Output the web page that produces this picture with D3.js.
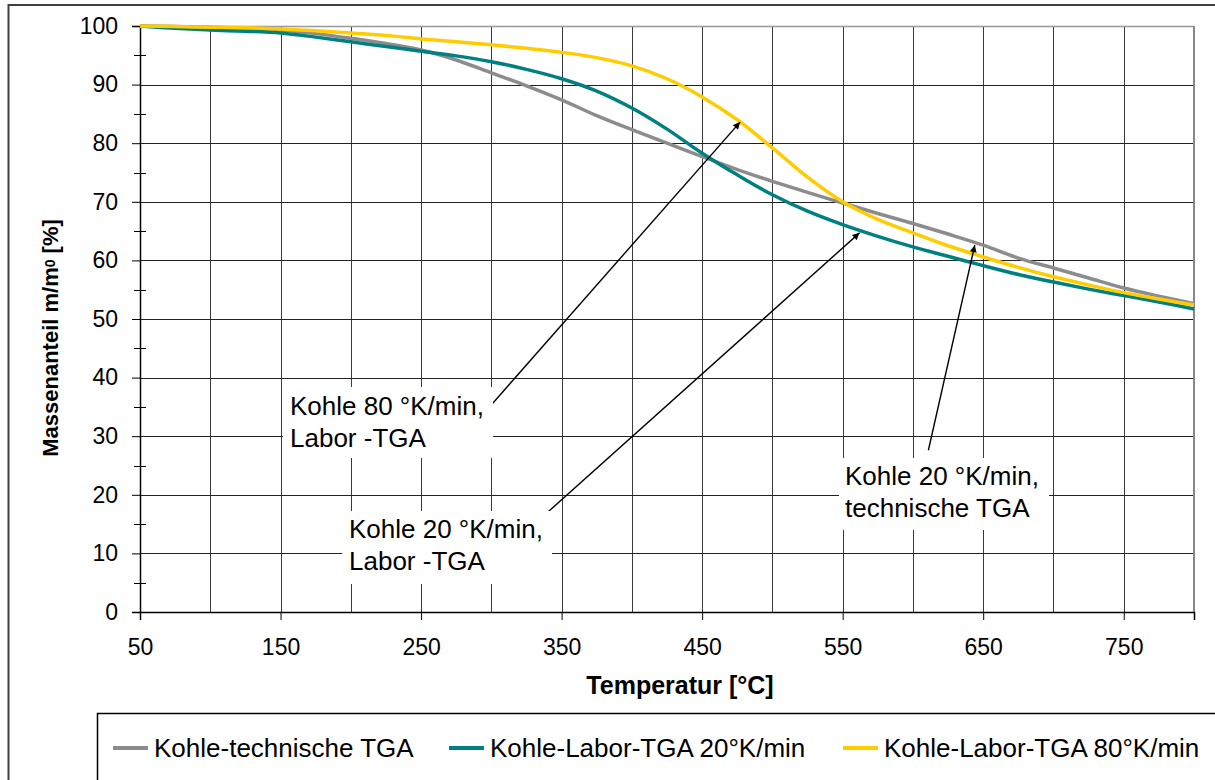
<!DOCTYPE html>
<html>
<head>
<meta charset="utf-8">
<script src="https://cdn.jsdelivr.net/npm/d3@7"></script>
<style>
  body { margin: 0; background: #fff; }
  svg text { font-family: "Liberation Sans", Arial, sans-serif; fill: #000; }
</style>
</head>
<body>
<div id="chart"></div>
<script>
// data
var temps = [50, 75, 100, 125, 150, 175, 200, 225, 250, 275, 300, 325, 350, 375, 400, 425,
             450, 475, 500, 525, 550, 575, 600, 625, 650, 675, 700, 725, 750, 775, 800];
var techTGA = [100, 99.9, 99.8, 99.6, 99.3, 98.7, 97.9, 97.0, 95.9, 94.2, 92.0, 89.8, 87.4, 84.7, 82.3, 80.0,
               77.7, 75.5, 73.5, 71.6, 69.8, 68.0, 66.3, 64.5, 62.6, 60.4, 58.7, 57.0, 55.3, 53.9, 52.6];
var labor20 = [100, 99.6, 99.3, 99.1, 98.8, 98.1, 97.3, 96.5, 95.7, 94.9, 93.9, 92.6, 91.0, 88.9, 86.0, 82.4,
               78.3, 74.6, 71.2, 68.4, 66.1, 64.1, 62.3, 60.7, 59.1, 57.6, 56.3, 55.1, 54.0, 52.9, 51.7];
var labor80 = [100, 99.9, 99.8, 99.7, 99.5, 99.2, 98.8, 98.4, 97.8, 97.3, 96.8, 96.2, 95.5, 94.6, 93.2, 91.0,
               87.9, 84.0, 79.2, 74.2, 70.0, 67.0, 64.7, 62.5, 60.6, 58.8, 57.2, 55.8, 54.5, 53.4, 52.4];
var seriesNames = ["Kohle-technische TGA", "Kohle-Labor-TGA 20°K/min", "Kohle-Labor-TGA 80°K/min"];
var seriesColors = ["#8c8c8c", "#008080", "#ffcc00"];
var xTickValues = [50, 150, 250, 350, 450, 550, 650, 750];
var yTickValues = [0, 10, 20, 30, 40, 50, 60, 70, 80, 90, 100];

// annotations: text lines, arrow start and arrow tip in data units
var notes = [
  { lines: ["Kohle 80 °K/min,", "Labor -TGA"], from: [292.5, 33.3], to: [477, 83.6] },
  { lines: ["Kohle 20 °K/min,", "Labor -TGA"], from: [339.5, 16.9], to: [562, 64.7] },
  { lines: ["Kohle 20 °K/min,", "technische TGA"], from: [611, 27.6], to: [644, 62.6] }
];

var svgWidth = 1215, svgHeight = 780;
var margin = { top: 26, left: 140 };
var plotW = 1054, plotH = 586;

var svg = d3.select("#chart").append("svg")
  .attr("width", svgWidth).attr("height", svgHeight);

// outer chart border
svg.append("rect").attr("x", 8.5).attr("y", 5).attr("width", 1300).attr("height", 900)
  .attr("fill", "#fff").attr("stroke", "#404040").attr("stroke-width", 2);

var g = svg.append("g").attr("transform", `translate(${margin.left}, ${margin.top})`);

var x = d3.scaleLinear().domain([50, 800]).range([0, plotW]);
var y = d3.scaleLinear().domain([0, 100]).range([plotH, 0]);

// grid
g.append("g").selectAll("line").data(d3.range(100, 800, 50)).enter().append("line")
  .attr("x1", d => Math.round(x(d)) + 0.5).attr("x2", d => Math.round(x(d)) + 0.5)
  .attr("y1", 0).attr("y2", plotH)
  .attr("stroke", "#3a3a3a").attr("stroke-width", 1);
g.append("g").selectAll("line").data(yTickValues.slice(1)).enter().append("line")
  .attr("x1", 0).attr("x2", plotW)
  .attr("y1", d => Math.round(y(d)) + 0.5).attr("y2", d => Math.round(y(d)) + 0.5)
  .attr("stroke", "#222").attr("stroke-width", 1);

// plot frame top/right
g.append("line").attr("x1", 0).attr("x2", plotW).attr("y1", 0.5).attr("y2", 0.5)
  .attr("stroke", "#999").attr("stroke-width", 1.5);
g.append("line").attr("x1", plotW).attr("x2", plotW).attr("y1", 0).attr("y2", plotH)
  .attr("stroke", "#888").attr("stroke-width", 2);

// annotation boxes (white, hide grid behind text)
var boxes = [[283, 387, 210, 71], [342, 511, 210, 73], [839, 458, 210, 72]];

// x axis
var xAxis = d3.axisBottom(x).tickValues(xTickValues).tickSize(8).tickPadding(19).tickFormat(d3.format("d"));
var xg = g.append("g").attr("transform", `translate(0, ${plotH})`).call(xAxis);
xg.select(".domain").attr("stroke", "#000").attr("stroke-width", 1.5);
xg.selectAll(".tick line").attr("stroke", "#000");
xg.selectAll("text").attr("font-size", 23).attr("font-family", "Liberation Sans, Arial");

// y axis
var yAxis = d3.axisLeft(y).tickValues(yTickValues).tickSize(8).tickPadding(14);
var yg = g.append("g").call(yAxis);
yg.select(".domain").attr("stroke", "#000").attr("stroke-width", 1.5);
yg.selectAll(".tick line").attr("stroke", "#000");
yg.selectAll("text").attr("font-size", 23).attr("font-family", "Liberation Sans, Arial");

// minor ticks on y at 5s
g.append("g").selectAll("line").data(d3.range(5, 100, 10)).enter().append("line")
  .attr("x1", -6).attr("x2", 6)
  .attr("y1", d => Math.round(y(d)) + 0.5).attr("y2", d => Math.round(y(d)) + 0.5)
  .attr("stroke", "#000");

// curves
var allSeries = [techTGA, labor20, labor80];
var line = d3.line().x(d => x(d[0])).y(d => y(d[1])).curve(d3.curveCatmullRom.alpha(0.5));
allSeries.forEach(function(vals, i) {
  g.append("path")
    .datum(temps.map((t, k) => [t, vals[k]]))
    .attr("fill", "none")
    .attr("stroke", seriesColors[i])
    .attr("stroke-width", 3.5)
    .attr("stroke-linejoin", "round")
    .attr("d", line);
});

// annotations
boxes.forEach(function(b) {
  svg.append("rect").attr("x", b[0]).attr("y", b[1]).attr("width", b[2]).attr("height", b[3]).attr("fill", "#fff");
});
var textPos = [[290, 415], [349, 538], [845, 485]];
notes.forEach(function(n, i) {
  var t = svg.append("text").attr("x", textPos[i][0]).attr("y", textPos[i][1]).attr("font-size", 26);
  n.lines.forEach(function(s, k) {
    t.append("tspan").attr("x", textPos[i][0]).attr("dy", k === 0 ? 0 : 32).text(s);
  });
});

svg.append("defs").append("marker")
  .attr("id", "arrow").attr("viewBox", "0 0 10 10").attr("refX", 10).attr("refY", 5)
  .attr("markerWidth", 8).attr("markerHeight", 7).attr("markerUnits", "userSpaceOnUse")
  .attr("orient", "auto")
  .append("path").attr("d", "M0,0 L10,5 L0,10 z").attr("fill", "#000");

notes.forEach(function(n) {
  g.append("line")
    .attr("x1", x(n.from[0])).attr("y1", y(n.from[1]))
    .attr("x2", x(n.to[0])).attr("y2", y(n.to[1]))
    .attr("stroke", "#000").attr("stroke-width", 1.4)
    .attr("marker-end", "url(#arrow)");
});

// axis titles
svg.append("text").attr("x", 680).attr("y", 694).attr("text-anchor", "middle")
  .attr("font-size", 25).attr("font-weight", "bold").text("Temperatur [°C]");

var yt = svg.append("text").attr("transform", "translate(58, 338) rotate(-90)")
  .attr("text-anchor", "middle").attr("font-size", 22).attr("font-weight", "bold");
yt.append("tspan").text("Massenanteil m/m");
yt.append("tspan").attr("font-size", 14).attr("dy", -3).text("0");
yt.append("tspan").attr("dy", 3).text(" [%]");

// legend
svg.append("rect").attr("x", 97.5).attr("y", 713.5).attr("width", 1200).attr("height", 120)
  .attr("fill", "#fff").attr("stroke", "#000").attr("stroke-width", 1.5);
var legendX = [113, 449, 843];
seriesNames.forEach(function(name, i) {
  svg.append("line").attr("x1", legendX[i]).attr("x2", legendX[i] + 35)
    .attr("y1", 748).attr("y2", 748)
    .attr("stroke", seriesColors[i]).attr("stroke-width", 4);
  svg.append("text").attr("x", legendX[i] + 41).attr("y", 757)
    .attr("font-size", 26).text(name);
});
</script>
</body>
</html>
